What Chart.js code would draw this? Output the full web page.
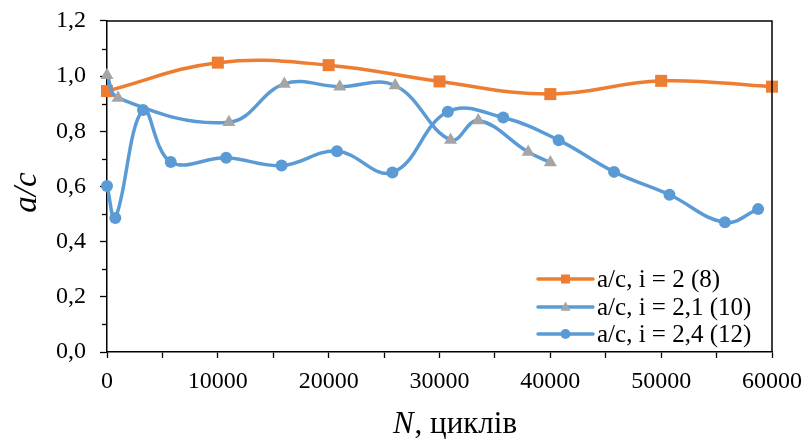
<!DOCTYPE html>
<html>
<head>
<meta charset="utf-8">
<script src="https://cdn.jsdelivr.net/npm/chart.js@4.4.1/dist/chart.umd.min.js"></script>
<style>
  html, body { margin: 0; padding: 0; background: #ffffff; }
  #wrap { width: 808px; height: 445px; position: relative; }
</style>
</head>
<body>
<div id="wrap"><canvas id="chart" width="808" height="445"></canvas></div>
<script>
// Crack aspect ratio a/c versus number of load cycles N
const seriesNames = ['a/c, i = 2 (8)', 'a/c, i = 2,1 (10)', 'a/c, i = 2,4 (12)'];

const cyclesI20 = [0, 10000, 20000, 30000, 40000, 50000, 60000];
const ratioI20  = [0.946, 1.049, 1.040, 0.981, 0.935, 0.983, 0.962];

const cyclesI21 = [0, 1000, 11000, 16000, 21000, 26000, 31000, 33500, 38000, 40000];
const ratioI21  = [1.003, 0.921, 0.833, 0.972, 0.962, 0.966, 0.769, 0.839, 0.725, 0.687];

const cyclesI24 = [0, 750, 3250, 5750, 10750, 15750, 20750, 25750, 30750, 35750, 40750, 45750, 50750, 55750, 58750];
const ratioI24  = [0.602, 0.486, 0.877, 0.689, 0.704, 0.676, 0.728, 0.651, 0.871, 0.850, 0.768, 0.653, 0.570, 0.470, 0.518];

const xTickLabels = ['0', '10000', '20000', '30000', '40000', '50000', '60000'];
const yTickLabels = ['0,0', '0,2', '0,4', '0,6', '0,8', '1,0', '1,2'];

const ORANGE = '#ED7D31';
const BLUE = '#5B9BD5';
const GRAY = '#A5A5A5';
const SERIF = '"Liberation Serif", "Times New Roman", serif';

const toPoints = (xs, ys) => xs.map((x, i) => ({ x: x, y: ys[i] }));

function drawMarker(ctx, style, x, y, r, color) {
  ctx.save();
  ctx.fillStyle = color;
  ctx.beginPath();
  if (style === 'rect') {
    ctx.rect(x - r, y - r, 2 * r, 2 * r);
  } else if (style === 'triangle') {
    ctx.moveTo(x, y - r * 1.1);
    ctx.lineTo(x + r, y + r * 0.75);
    ctx.lineTo(x - r, y + r * 0.75);
    ctx.closePath();
  } else {
    ctx.arc(x, y, r, 0, Math.PI * 2);
  }
  ctx.fill();
  ctx.restore();
}

// Plot frame, minor ticks, axis titles and the line-with-marker legend
const decorations = {
  id: 'decorations',
  afterDatasetsDraw(chart) {
    const ctx = chart.ctx;
    const a = chart.chartArea;
    const ys = chart.scales.y;

    ctx.save();
    // top and right edges of the plot frame
    ctx.strokeStyle = '#000';
    ctx.lineWidth = 1.5;
    ctx.beginPath();
    ctx.moveTo(a.left, a.top);
    ctx.lineTo(a.right, a.top);
    ctx.lineTo(a.right, a.bottom);
    ctx.stroke();

    // minor ticks on the value axis
    ctx.lineWidth = 1.3;
    for (let v = 0.1; v < 1.2; v += 0.2) {
      const py = Math.round(ys.getPixelForValue(v)) + 0.5;
      ctx.beginPath();
      ctx.moveTo(a.left - 5, py);
      ctx.lineTo(a.left, py);
      ctx.stroke();
    }

    // value axis title
    ctx.fillStyle = '#000';
    ctx.font = 'italic 33px ' + SERIF;
    ctx.textAlign = 'center';
    ctx.textBaseline = 'middle';
    ctx.save();
    ctx.translate(27, (a.top + a.bottom) / 2 + 6);
    ctx.rotate(-Math.PI / 2);
    ctx.fillText('a/c', 0, 0);
    ctx.restore();

    // cycle axis title: italic N followed by upright text
    const part1 = 'N';
    const part2 = ', циклів';
    ctx.textAlign = 'left';
    ctx.textBaseline = 'alphabetic';
    ctx.font = 'italic 31px ' + SERIF;
    const w1 = ctx.measureText(part1).width;
    ctx.font = '31px ' + SERIF;
    const w2 = ctx.measureText(part2).width;
    const cx = (a.left + a.right) / 2 + 15;
    const bx = cx - (w1 + w2) / 2;
    const by = 433;
    ctx.font = 'italic 31px ' + SERIF;
    ctx.fillText(part1, bx, by);
    ctx.font = '31px ' + SERIF;
    ctx.fillText(part2, bx + w1 + 1, by);

    // legend
    const rows = chart.data.datasets.map((ds, i) => ({
      label: ds.label, color: ds.borderColor, marker: ds.pointBackgroundColor, style: ds.pointStyle
    }));
    const rowY = [a.bottom - 73, a.bottom - 45, a.bottom - 18];
    const x0 = a.right - 234, x1 = a.right - 179;
    ctx.font = '25px ' + SERIF;
    ctx.textBaseline = 'middle';
    rows.forEach((r, i) => {
      const y = rowY[i];
      ctx.strokeStyle = r.color;
      ctx.lineWidth = 3.5;
      ctx.lineCap = 'round';
      ctx.beginPath();
      ctx.moveTo(x0, y);
      ctx.lineTo(x1, y);
      ctx.stroke();
      const mr = r.style === 'rect' ? 4.5 : 5;
      drawMarker(ctx, r.style, (x0 + x1) / 2, y, mr, r.marker);
      ctx.fillStyle = '#000';
      ctx.fillText(r.label, a.right - 175, y + 1);
    });
    ctx.restore();
  }
};

const lineCommon = {
  showLine: true,
  borderWidth: 3.5,
  tension: 0.4,
  pointBorderWidth: 0,
  clip: false,
  pointHoverRadius: 6
};

new Chart(document.getElementById('chart'), {
  type: 'scatter',
  data: {
    datasets: [
      Object.assign({}, lineCommon, {
        label: seriesNames[0],
        data: toPoints(cyclesI20, ratioI20),
        borderColor: ORANGE,
        backgroundColor: ORANGE,
        pointBackgroundColor: ORANGE,
        pointStyle: 'rect',
        pointRadius: 8.5,
        order: 3
      }),
      Object.assign({}, lineCommon, {
        label: seriesNames[1],
        data: toPoints(cyclesI21, ratioI21),
        borderColor: BLUE,
        backgroundColor: GRAY,
        pointBackgroundColor: GRAY,
        pointStyle: 'triangle',
        pointRadius: 7.5,
        order: 2
      }),
      Object.assign({}, lineCommon, {
        label: seriesNames[2],
        data: toPoints(cyclesI24, ratioI24),
        borderColor: BLUE,
        backgroundColor: BLUE,
        pointBackgroundColor: BLUE,
        pointStyle: 'circle',
        pointRadius: 6,
        order: 1
      })
    ]
  },
  options: {
    responsive: false,
    animation: false,
    devicePixelRatio: 1,
    layout: { padding: { top: 21, right: 36, left: 0, bottom: 0 } },
    plugins: {
      legend: { display: false },
      tooltip: { enabled: false }
    },
    scales: {
      x: {
        type: 'linear',
        min: 0,
        max: 60000,
        afterFit: s => {
          s.height = 93;
          s.paddingLeft = 0;
          s.paddingRight = 0;
        },
        afterBuildTicks: s => {
          const t = [];
          for (let v = 0; v <= 60000; v += 5000) t.push({ value: v });
          s.ticks = t;
        },
        ticks: {
          autoSkip: false,
          maxRotation: 0,
          padding: 9,
          color: '#000',
          font: { family: SERIF, size: 24 },
          callback: v => (v % 10000 === 0 ? xTickLabels[v / 10000] : '')
        },
        grid: {
          drawOnChartArea: false,
          drawTicks: true,
          tickLength: 6,
          tickColor: '#000',
          tickWidth: 1.3
        },
        border: { color: '#000', width: 1.5 }
      },
      y: {
        type: 'linear',
        min: 0,
        max: 1.2,
        afterFit: s => {
          s.width = 107;
          s.paddingTop = 0;
          s.paddingBottom = 0;
        },
        afterBuildTicks: s => {
          const t = [];
          for (let k = 0; k <= 6; k++) t.push({ value: k * 0.2 });
          s.ticks = t;
        },
        ticks: {
          padding: 14,
          color: '#000',
          font: { family: SERIF, size: 24 },
          callback: (v, i) => yTickLabels[i]
        },
        grid: {
          drawOnChartArea: false,
          drawTicks: true,
          tickLength: 7,
          tickColor: '#000',
          tickWidth: 1.3
        },
        border: { color: '#000', width: 1.5 }
      }
    }
  },
  plugins: [decorations]
});
</script>
</body>
</html>
